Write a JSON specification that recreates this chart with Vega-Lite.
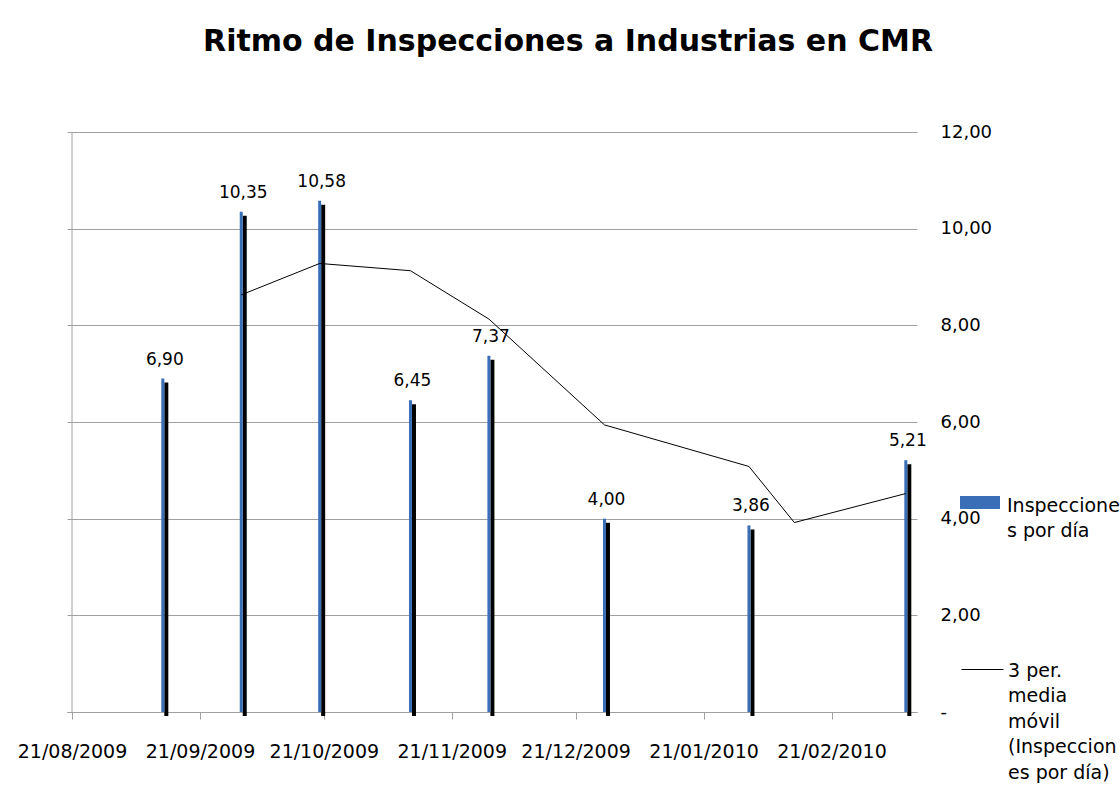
{
  "$schema": "https://vega.github.io/schema/vega-lite/v6.json",
  "width": 850,
  "height": 580,
  "autosize": "none",
  "padding": {"left": 67, "top": 132, "right": 203, "bottom": 89},
  "background": "white",
  "config": {
    "locale": {"number": {"decimal": ",", "thousands": ".", "grouping": [3], "currency": ["", " €"]}},
    "view": {"stroke": null},
    "font": "DejaVu Sans"
  },
  "title": {
    "text": "Ritmo de Inspecciones a Industrias en CMR",
    "font": "DejaVu Sans",
    "fontSize": 30,
    "fontWeight": "bold",
    "anchor": "middle",
    "frame": "group",
    "dx": 76,
    "baseline": "alphabetic",
    "offset": 42,
    "color": "black"
  },
  "datasets": {
    "inspecciones": [
      {"fecha": "2009-09-12", "valor": 6.90},
      {"fecha": "2009-10-01", "valor": 10.35},
      {"fecha": "2009-10-20", "valor": 10.58},
      {"fecha": "2009-11-11", "valor": 6.45},
      {"fecha": "2009-11-30", "valor": 7.37},
      {"fecha": "2009-12-28", "valor": 4.00},
      {"fecha": "2010-02-01", "valor": 3.86},
      {"fecha": "2010-03-11", "valor": 5.21}
    ],
    "media": [
      {"fecha": "2009-10-01", "media": 8.63},
      {"fecha": "2009-10-20", "media": 9.28},
      {"fecha": "2009-11-11", "media": 9.13},
      {"fecha": "2009-11-30", "media": 8.13},
      {"fecha": "2009-12-28", "media": 5.94},
      {"fecha": "2010-02-01", "media": 5.08},
      {"fecha": "2010-02-12", "media": 3.92},
      {"fecha": "2010-03-11", "media": 4.52}
    ],
    "inicio": [
      {"fecha": "2009-08-21"}
    ]
  },
  "encoding": {
    "x": {
      "field": "fecha",
      "type": "temporal",
      "scale": {
        "type": "utc",
        "nice": false,
        "domain": [
          {"year": 2009, "month": 8, "date": 21, "utc": true},
          {"year": 2010, "month": 3, "date": 12, "hours": 12, "utc": true}
        ]
      },
      "axis": {
        "title": null,
        "values": [
          {"year": 2009, "month": 8, "date": 21, "utc": true},
          {"year": 2009, "month": 9, "date": 21, "utc": true},
          {"year": 2009, "month": 10, "date": 21, "utc": true},
          {"year": 2009, "month": 11, "date": 21, "utc": true},
          {"year": 2009, "month": 12, "date": 21, "utc": true},
          {"year": 2010, "month": 1, "date": 21, "utc": true},
          {"year": 2010, "month": 2, "date": 21, "utc": true}
        ],
        "labelExpr": "utcFormat(datum.value, '%d/%m/%Y')",
        "grid": false,
        "domainColor": "#A0A0A0",
        "tickColor": "#A0A0A0",
        "tickSize": 7,
        "labelPadding": 23,
        "labelFontSize": 19,
        "labelFont": "DejaVu Sans",
        "labelColor": "black",
        "labelFlush": false,
        "labelOverlap": false
      }
    }
  },
  "layer": [
    {
      "data": {"name": "inicio"},
      "mark": {"type": "rule", "color": "#A0A0A0", "strokeWidth": 1},
      "encoding": {}
    },
    {
      "data": {"name": "inspecciones"},
      "mark": {"type": "bar", "width": 4, "xOffset": 3.5, "yOffset": 4, "color": "black"},
      "encoding": {
        "y": {
          "field": "valor",
          "type": "quantitative",
          "scale": {"domain": [0, 12]},
          "axis": {
            "orient": "right",
            "title": null,
            "values": [0, 2, 4, 6, 8, 10, 12],
            "format": ".2f",
            "labelExpr": "datum.value === 0 ? '-' : datum.label",
            "ticks": false,
            "domain": false,
            "grid": true,
            "gridColor": "#A0A0A0",
            "labelPadding": 23,
            "labelFontSize": 18,
            "labelFont": "DejaVu Sans",
            "labelColor": "black",
            "labelAlign": "left"
          }
        }
      }
    },
    {
      "data": {"name": "inspecciones"},
      "mark": {"type": "bar", "width": 3},
      "encoding": {
        "y": {"field": "valor", "type": "quantitative"},
        "fill": {
          "datum": "Inspecciones por día",
          "scale": {"range": ["#3A6FB8"]},
          "legend": {
            "title": null,
            "orient": "none",
            "legendX": 893,
            "legendY": 350.5,
            "symbolType": "M-1,-0.33H1V0.33H-1Z",
            "symbolSize": 1600,
            "symbolStrokeWidth": 0,
            "labelOffset": 7,
            "labelFont": "DejaVu Sans",
            "labelFontSize": 19,
            "labelColor": "black",
            "labelLimit": 300,
            "labelBaseline": "alphabetic",
            "labelExpr": "['Inspeccione', 's por día']",
            "encode": {"labels": {"update": {"dy": {"value": 9.5}, "lineHeight": {"value": 25}}}}
          }
        }
      }
    },
    {
      "data": {"name": "inspecciones"},
      "mark": {"type": "text", "dx": 2, "dy": -14, "baseline": "alphabetic", "align": "center", "fontSize": 17, "font": "DejaVu Sans", "color": "black"},
      "encoding": {
        "y": {"field": "valor", "type": "quantitative"},
        "text": {"field": "valor", "type": "quantitative", "format": ".2f"}
      }
    },
    {
      "data": {"name": "media"},
      "mark": {"type": "line", "strokeWidth": 1},
      "encoding": {
        "y": {"field": "media", "type": "quantitative"},
        "stroke": {
          "datum": "3 per. media móvil (Inspecciones por día)",
          "scale": {"range": ["#000000"]},
          "legend": {
            "title": null,
            "orient": "none",
            "legendX": 894,
            "legendY": 516,
            "symbolType": "stroke",
            "symbolSize": 1764,
            "symbolStrokeWidth": 1,
            "labelOffset": 4,
            "labelFont": "DejaVu Sans",
            "labelFontSize": 19,
            "labelColor": "black",
            "labelLimit": 300,
            "labelBaseline": "alphabetic",
            "labelExpr": "['3 per.', 'media', 'móvil', '(Inspeccion', 'es por día)']",
            "encode": {"labels": {"update": {"dy": {"value": 7}, "lineHeight": {"value": 25.5}}}}
          }
        }
      }
    }
  ]
}
